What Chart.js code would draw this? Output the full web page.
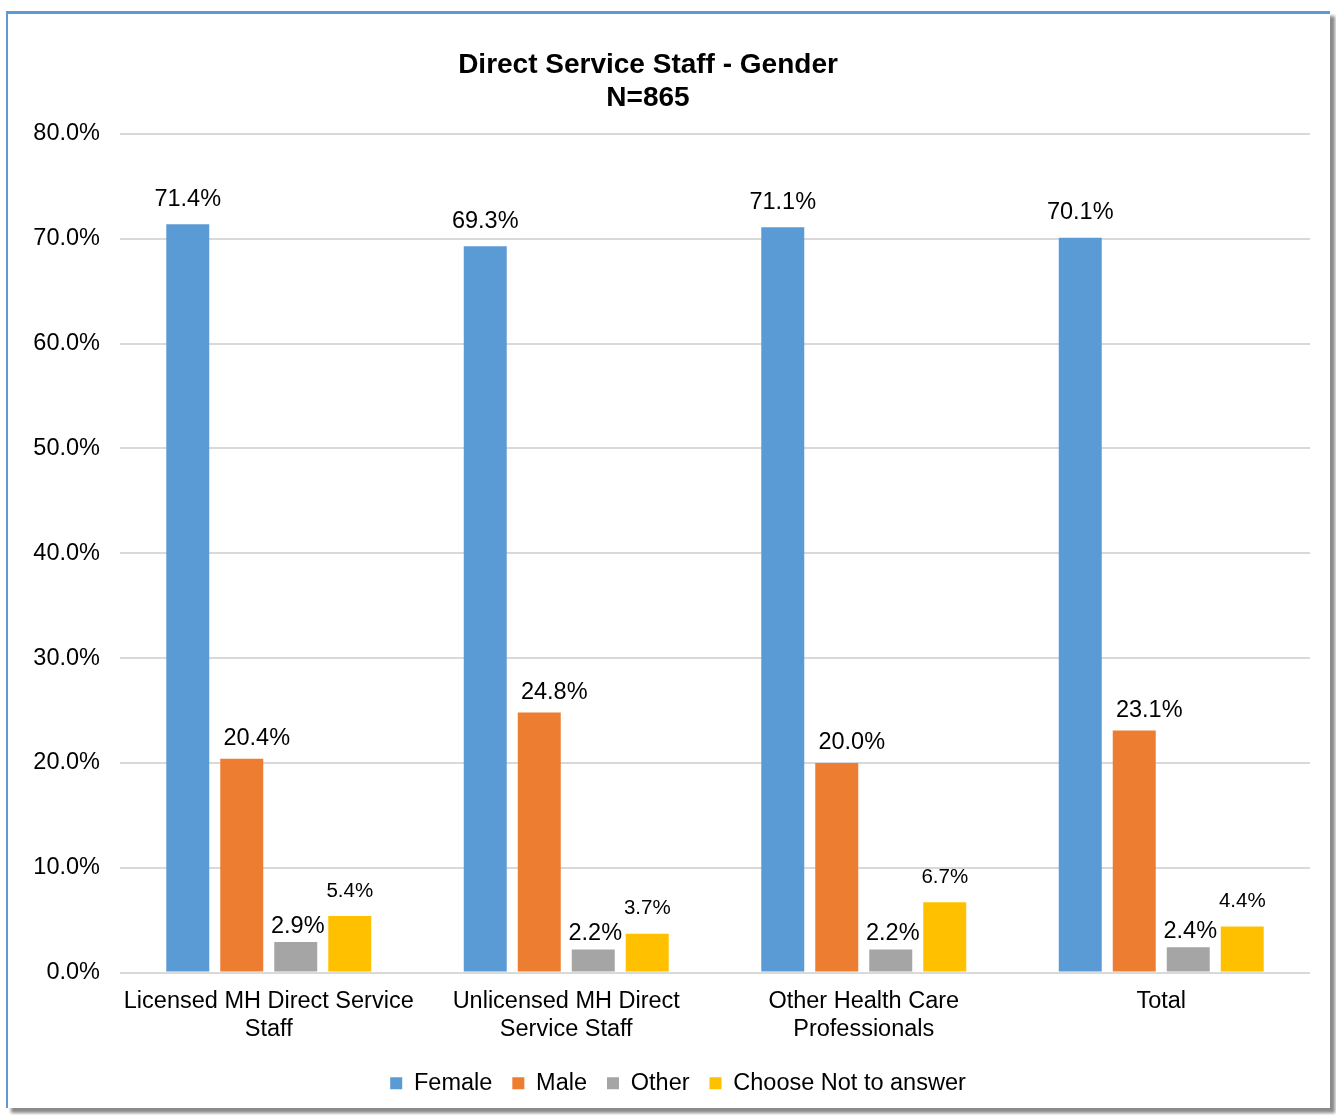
<!DOCTYPE html>
<html lang="en">
<head>
    <meta charset="UTF-8">
    <title>Direct Service Staff - Gender</title>
    <script src="https://cdn.jsdelivr.net/npm/chart.js"></script>
    <style>
        body { margin: 0; background: #fff; }
        .wrap { position: relative; width: 1336px; height: 1115px; }
        .frame {
            position: absolute; left: 6px; top: 11px; width: 1322px; height: 1094px;
            border-left: 2px solid #5b9bd5; border-top: 3px solid #5b9bd5;
            box-shadow: 5px 5px 3px #8a8a8a;
        }
        .chart-box { position: absolute; left: 0; top: 0; width: 1336px; height: 1115px; }
    </style>
</head>
<body>
<div class="wrap">
    <div class="frame"></div>
    <div class="chart-box"><canvas id="myChart"></canvas></div>
</div>

<script>
    // data
    const categories = [
        ['Licensed MH Direct Service', 'Staff'],
        ['Unlicensed MH Direct', 'Service Staff'],
        ['Other Health Care', 'Professionals'],
        'Total'
    ];
    const female = [71.4, 69.3, 71.1, 70.1];
    const male = [20.4, 24.8, 20.0, 23.1];
    const other = [2.9, 2.2, 2.2, 2.4];
    const notAnswer = [5.4, 3.7, 6.7, 4.4];
    const yTicks = [0, 10, 20, 30, 40, 50, 60, 70, 80];

    const FONT = "'Liberation Sans', Arial, sans-serif";

    // label look per series: size, dx, dy above the bar
    const labelStyle = [
        { size: 23.5, dx: 0, dy: 25 },
        { size: 23.5, dx: 15, dy: 20 },
        { size: 23.5, dx: 2, dy: 16 },
        { size: 20.5, dx: 0, dy: 25 }
    ];

    const valueLabels = {
        id: 'valueLabels',
        afterDatasetsDraw(chart) {
            const ctx = chart.ctx;
            ctx.save();
            ctx.fillStyle = '#000';
            ctx.textAlign = 'center';
            ctx.textBaseline = 'middle';
            chart.data.datasets.forEach((ds, i) => {
                const st = labelStyle[i];
                ctx.font = st.size + 'px ' + FONT;
                chart.getDatasetMeta(i).data.forEach((bar, j) => {
                    ctx.fillText(ds.data[j].toFixed(1) + '%', bar.x + st.dx, bar.y - st.dy);
                });
            });
            ctx.restore();
        }
    };

    const titlePlugin = {
        id: 'titleText',
        afterLayout(chart) {
            // legend sits a bit right of the canvas centre in the original
            chart.legend.left += 46;
        },
        afterDraw(chart) {
            const ctx = chart.ctx;
            ctx.save();
            ctx.fillStyle = '#000';
            ctx.textAlign = 'center';
            ctx.textBaseline = 'middle';
            ctx.font = 'bold 28px ' + FONT;
            ctx.fillText('Direct Service Staff - Gender', 648, 65);
            ctx.fillText('N=865', 648, 98);
            ctx.restore();
        }
    };

    const barOpts = { barPercentage: 0.796, categoryPercentage: 0.726 };

    new Chart(document.getElementById('myChart'), {
        type: 'bar',
        data: {
            labels: categories,
            datasets: [
                { label: 'Female', data: female, backgroundColor: '#5b9bd5', ...barOpts },
                { label: 'Male', data: male, backgroundColor: '#ed7d31', ...barOpts },
                { label: 'Other', data: other, backgroundColor: '#a5a5a5', ...barOpts },
                { label: 'Choose Not to answer', data: notAnswer, backgroundColor: '#ffc000', ...barOpts }
            ]
        },
        options: {
            responsive: true,
            maintainAspectRatio: false,
            animation: false,
            layout: { padding: { top: 134, right: 26, bottom: 10, left: 0 } },
            plugins: {
                title: { display: false },
                tooltip: { enabled: false },
                legend: {
                    position: 'bottom',
                    labels: {
                        boxWidth: 12,
                        boxHeight: 12,
                        padding: 20,
                        color: '#000',
                        font: { family: FONT, size: 23.5 }
                    }
                }
            },
            scales: {
                x: {
                    grid: { display: false },
                    border: { display: false },
                    ticks: {
                        color: '#000',
                        padding: 7,
                        maxRotation: 0,
                        font: { family: FONT, size: 23.5, lineHeight: 1.2 }
                    },
                    afterFit(scale) { scale.height = 79; }
                },
                y: {
                    min: 0,
                    max: 80,
                    border: { display: false },
                    grid: { color: '#d9d9d9', lineWidth: 2, drawTicks: false },
                    afterBuildTicks(scale) { scale.ticks = yTicks.map(v => ({ value: v })); },
                    ticks: {
                        color: '#000',
                        padding: 20,
                        font: { family: FONT, size: 23.5 },
                        callback: v => v.toFixed(1) + '%'
                    },
                    afterFit(scale) { scale.width = 120; }
                }
            }
        },
        plugins: [valueLabels, titlePlugin]
    });
</script>
</body>
</html>
